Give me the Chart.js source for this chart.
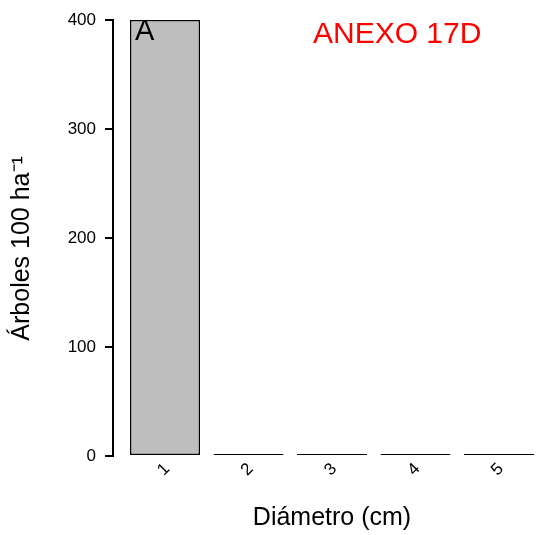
<!DOCTYPE html>
<html>
<head>
<meta charset="utf-8">
<script src="https://cdn.jsdelivr.net/npm/chart.js@4"></script>
<style>
  html, body { margin: 0; padding: 0; background: #fff; overflow: hidden; }
  #wrap { width: 560px; height: 535px; }
</style>
</head>
<body>
<div id="wrap"><canvas id="myChart" width="560" height="535"></canvas></div>
<script>
var diametros = ['1', '2', '3', '4', '5'];
var arboles = [400, 0, 0, 0, 0];
var yTicks = [0, 100, 200, 300, 400];

var panel = 'A';
var anexo = 'ANEXO 17D';

Chart.defaults.font.family = '"Liberation Sans", Arial, Helvetica, sans-serif';
Chart.defaults.color = '#000';

// the two text() labels over the plot
var labelsPlugin = {
  id: 'labelsPlugin',
  afterDraw: function (chart) {
    var ctx = chart.ctx;
    ctx.save();
    ctx.textBaseline = 'alphabetic';
    ctx.textAlign = 'left';
    ctx.fillStyle = '#000';
    ctx.font = '29px "Liberation Sans", Arial, sans-serif';
    ctx.fillText(panel, 135, 40);
    ctx.fillStyle = '#ff0000';
    ctx.font = '30px "Liberation Sans", Arial, sans-serif';
    ctx.fillText(anexo, 313, 43);
    ctx.restore();
  }
};

function one() {
  var ctx = document.getElementById('myChart').getContext('2d');
  var data = diametros.map(function (d, i) { return { x: Number(d), y: arboles[i] }; });
  var config = {
    type: 'bar',
    data: {
      datasets: [{
        data: data,
        backgroundColor: '#bebebe',
        borderColor: '#000',
        borderWidth: 1.5,
        borderSkipped: false,
        inflateAmount: 0,
        barThickness: 70,
        minBarLength: 2,
        clip: false
      }]
    },
    options: {
      responsive: false,
      animation: false,
      layout: { padding: { top: 20, right: 9, bottom: 0, left: 0 } },
      plugins: { legend: { display: false }, tooltip: { enabled: false } },
      scales: {
        x: {
          type: 'linear',
          offset: false,
          min: 0.377,
          max: 5.623,
          grid: { display: false },
          border: { display: false },
          afterBuildTicks: function (scale) {
            scale.ticks = diametros.map(function (d) { return { value: Number(d) }; });
          },
          afterFit: function (scale) { scale.height = 79; },
          ticks: {
            autoSkip: false,
            minRotation: 45,
            maxRotation: 45,
            padding: -5,
            labelOffset: 2,
            font: { size: 17 },
            callback: function (v) { return String(v); }
          },
          title: {
            display: true,
            text: 'Diámetro (cm)',
            font: { size: 25 },
            padding: { top: 0, bottom: 2 }
          }
        },
        y: {
          min: 0,
          max: 400,
          afterBuildTicks: function (scale) {
            scale.ticks = yTicks.map(function (v) { return { value: v }; });
          },
          afterFit: function (scale) { scale.width = 113; },
          grid: { drawOnChartArea: false, drawTicks: true, tickLength: 8, color: '#000', lineWidth: 2 },
          border: { display: true, color: '#000', width: 2 },
          ticks: { padding: 9, font: { size: 17 } },
          title: {
            display: true,
            text: 'Árboles 100 ha⁻¹   ',
            font: { size: 25 },
            padding: { top: 7, bottom: 0 }
          }
        }
      }
    },
    plugins: [labelsPlugin]
  };
  var myChart = new Chart(ctx, config);
}

window.onload = function () {
  one();
};
</script>
</body>
</html>
